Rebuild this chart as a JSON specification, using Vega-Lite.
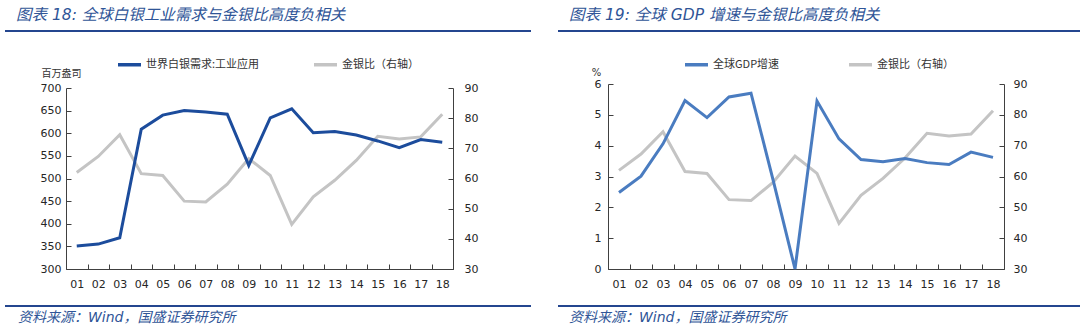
{
  "$schema": "https://vega.github.io/schema/vega-lite/v6.json",
  "background": "white",
  "padding": {"left": 4, "top": 7, "right": 0, "bottom": 0},
  "datasets": {
    "d": [
      {"year": "01", "silver": 351, "ratio": 62.0, "gdp": 2.48},
      {"year": "02", "silver": 355, "ratio": 67.3, "gdp": 3.01},
      {"year": "03", "silver": 369, "ratio": 74.5, "gdp": 4.06},
      {"year": "04", "silver": 609, "ratio": 61.6, "gdp": 5.46},
      {"year": "05", "silver": 640, "ratio": 61.0, "gdp": 4.91},
      {"year": "06", "silver": 650, "ratio": 52.5, "gdp": 5.58},
      {"year": "07", "silver": 647, "ratio": 52.2, "gdp": 5.70},
      {"year": "08", "silver": 642, "ratio": 58.1, "gdp": 2.90},
      {"year": "09", "silver": 529, "ratio": 66.6, "gdp": 0.0},
      {"year": "10", "silver": 634, "ratio": 61.0, "gdp": 5.45},
      {"year": "11", "silver": 654, "ratio": 44.8, "gdp": 4.22},
      {"year": "12", "silver": 601, "ratio": 53.9, "gdp": 3.55},
      {"year": "13", "silver": 604, "ratio": 59.4, "gdp": 3.48},
      {"year": "14", "silver": 596, "ratio": 66.0, "gdp": 3.58},
      {"year": "15", "silver": 583, "ratio": 74.0, "gdp": 3.45},
      {"year": "16", "silver": 568, "ratio": 73.1, "gdp": 3.39},
      {"year": "17", "silver": 586, "ratio": 73.8, "gdp": 3.79},
      {"year": "18", "silver": 580, "ratio": 81.3, "gdp": 3.62}
    ],
    "one": [{"k": 1}]
  },
  "config": {
    "view": {"stroke": null},
    "axis": {
      "grid": false,
      "domainColor": "#404040",
      "tickColor": "#404040",
      "labelColor": "#262626",
      "labelFont": "DejaVu Sans",
      "labelFontSize": 11
    }
  },
  "resolve": {"scale": {"x": "independent", "y": "independent", "color": "independent"}, "legend": {"color": "independent"}},
  "spacing": 25,
  "hconcat": [
    {
      "spacing": 19,
      "resolve": {"scale": {"x": "independent", "y": "independent", "color": "independent"}, "legend": {"color": "independent"}},
      "vconcat": [
        {
          "data": {"name": "one"},
          "width": 526,
          "height": 1,
          "title": {
            "text": "图表 18: 全球白银工业需求与金银比高度负相关",
            "anchor": "start",
            "orient": "top",
            "dx": 12,
            "offset": -5,
            "baseline": "alphabetic",
            "font": "DejaVu Sans, Noto Sans CJK SC",
            "fontSize": 15.5,
            "fontStyle": "italic",
            "fontWeight": "normal",
            "color": "#2f5597"
          },
          "mark": {"type": "rule", "color": "#24468f", "strokeWidth": 2},
          "encoding": {
            "y": {"datum": 1, "type": "quantitative", "scale": {"domain": [0, 1]}, "axis": null}
          }
        },
        {
          "spacing": 16,
          "resolve": {"scale": {"x": "independent", "y": "independent", "color": "independent"}, "legend": {"color": "independent"}},
          "vconcat": [
            {
              "spacing": 0,
              "resolve": {"scale": {"x": "independent", "y": "independent", "color": "independent"}, "legend": {"color": "independent"}},
              "hconcat": [
                {
                  "data": {"name": "one"},
                  "width": 1,
                  "height": 1,
                  "mark": {"type": "rule", "opacity": 0},
                  "encoding": {
                    "y": {"datum": 1, "type": "quantitative", "scale": {"domain": [0, 1]}, "axis": null}
                  }
                },
                {
                  "data": {"name": "d"},
                  "width": 387,
                  "height": 181,
                  "encoding": {
                    "x": {
                      "field": "year",
                      "type": "ordinal",
                      "scale": {"type": "band", "paddingInner": 0, "paddingOuter": 0},
                      "axis": {"title": null, "tickBand": "extent", "tickSize": -5, "labelPadding": 14, "labelAngle": 0}
                    }
                  },
                  "layer": [
                    {
                      "mark": {"type": "line", "strokeWidth": 3},
                      "encoding": {
                        "y": {
                          "field": "ratio",
                          "type": "quantitative",
                          "scale": {"domain": [30, 90], "nice": false, "zero": false},
                          "axis": {"orient": "right", "values": [30, 40, 50, 60, 70, 80, 90], "title": null, "tickSize": -5, "labelPadding": 16, "minExtent": 78}
                        },
                        "color": {"datum": "金银比（右轴）", "type": "nominal"}
                      }
                    },
                    {
                      "mark": {"type": "line", "strokeWidth": 3},
                      "encoding": {
                        "y": {
                          "field": "silver",
                          "type": "quantitative",
                          "scale": {"domain": [300, 700], "nice": false, "zero": false},
                          "axis": {
                            "orient": "left",
                            "values": [300, 350, 400, 450, 500, 550, 600, 650, 700],
                            "title": "百万盎司",
                            "titleAngle": 0,
                            "titleX": -5,
                            "titleY": -15,
                            "titleAlign": "center",
                            "titleBaseline": "middle",
                            "titleFont": "Noto Sans CJK SC",
                            "titleFontSize": 10,
                            "titleFontWeight": "normal",
                            "titleColor": "#333333",
                            "tickSize": -5,
                            "labelPadding": 10,
                            "minExtent": 60
                          }
                        },
                        "color": {
                          "datum": "世界白银需求:工业应用",
                          "type": "nominal",
                          "scale": {"domain": ["世界白银需求:工业应用", "金银比（右轴）"], "range": ["#1c4c9c", "#c4c4c4"]},
                          "legend": {
                            "orient": "none",
                            "legendX": 50,
                            "legendY": -37,
                            "direction": "horizontal",
                            "title": null,
                            "symbolType": "stroke",
                            "symbolStrokeWidth": 3.5,
                            "symbolSize": 530,
                            "labelFont": "Noto Sans CJK SC",
                            "labelFontSize": 11,
                            "labelColor": "#333333",
                            "columnPadding": 46,
                            "labelOffset": 3,
                            "padding": 0
                          }
                        }
                      }
                    }
                  ],
                  "resolve": {"scale": {"y": "independent"}}
                }
              ]
            },
            {
              "data": {"name": "one"},
              "width": 526,
              "height": 1,
              "title": {
                "text": "资料来源：Wind，国盛证券研究所",
                "anchor": "start",
                "orient": "bottom",
                "dx": 14,
                "offset": 4,
                "baseline": "top",
                "font": "DejaVu Sans, Noto Sans CJK SC",
                "fontSize": 14,
                "fontStyle": "italic",
                "fontWeight": "normal",
                "color": "#2f5597"
              },
              "mark": {"type": "rule", "color": "#24468f", "strokeWidth": 2},
              "encoding": {
                "y": {"datum": 1, "type": "quantitative", "scale": {"domain": [0, 1]}, "axis": null}
              }
            }
          ]
        }
      ]
    },
    {
      "spacing": 19,
      "resolve": {"scale": {"x": "independent", "y": "independent", "color": "independent"}, "legend": {"color": "independent"}},
      "vconcat": [
        {
          "data": {"name": "one"},
          "width": 523,
          "height": 1,
          "title": {
            "text": "图表 19: 全球 GDP 增速与金银比高度负相关",
            "anchor": "start",
            "orient": "top",
            "dx": 12,
            "offset": -5,
            "baseline": "alphabetic",
            "font": "DejaVu Sans, Noto Sans CJK SC",
            "fontSize": 15.5,
            "fontStyle": "italic",
            "fontWeight": "normal",
            "color": "#2f5597"
          },
          "mark": {"type": "rule", "color": "#24468f", "strokeWidth": 2},
          "encoding": {
            "y": {"datum": 1, "type": "quantitative", "scale": {"domain": [0, 1]}, "axis": null}
          }
        },
        {
          "spacing": 16,
          "resolve": {"scale": {"x": "independent", "y": "independent", "color": "independent"}, "legend": {"color": "independent"}},
          "vconcat": [
            {
              "spacing": 0,
              "resolve": {"scale": {"x": "independent", "y": "independent", "color": "independent"}, "legend": {"color": "independent"}},
              "hconcat": [
                {
                  "data": {"name": "one"},
                  "width": 1,
                  "height": 1,
                  "mark": {"type": "rule", "opacity": 0},
                  "encoding": {
                    "y": {"datum": 1, "type": "quantitative", "scale": {"domain": [0, 1]}, "axis": null}
                  }
                },
                {
                  "data": {"name": "d"},
                  "width": 396,
                  "height": 185,
                  "encoding": {
                    "x": {
                      "field": "year",
                      "type": "ordinal",
                      "scale": {"type": "band", "paddingInner": 0, "paddingOuter": 0},
                      "axis": {"title": null, "tickBand": "extent", "tickSize": -5, "labelPadding": 14, "labelAngle": 0}
                    }
                  },
                  "layer": [
                    {
                      "mark": {"type": "line", "strokeWidth": 3},
                      "encoding": {
                        "y": {
                          "field": "ratio",
                          "type": "quantitative",
                          "scale": {"domain": [30, 90], "nice": false, "zero": false},
                          "axis": {"orient": "right", "values": [30, 40, 50, 60, 70, 80, 90], "title": null, "tickSize": -5, "labelPadding": 14, "minExtent": 77}
                        },
                        "color": {"datum": "金银比（右轴）", "type": "nominal"}
                      }
                    },
                    {
                      "mark": {"type": "line", "strokeWidth": 3},
                      "encoding": {
                        "y": {
                          "field": "gdp",
                          "type": "quantitative",
                          "scale": {"domain": [0, 6], "nice": false},
                          "axis": {
                            "orient": "left",
                            "values": [0, 1, 2, 3, 4, 5, 6],
                            "title": "%",
                            "titleAngle": 0,
                            "titleX": -12,
                            "titleY": -12,
                            "titleAlign": "center",
                            "titleBaseline": "middle",
                            "titleFont": "DejaVu Sans",
                            "titleFontSize": 10,
                            "titleFontWeight": "normal",
                            "titleColor": "#333333",
                            "tickSize": -5,
                            "labelPadding": 12,
                            "minExtent": 49
                          }
                        },
                        "color": {
                          "datum": "全球GDP增速",
                          "type": "nominal",
                          "scale": {"domain": ["全球GDP增速", "金银比（右轴）"], "range": ["#4a7cc0", "#c4c4c4"]},
                          "legend": {
                            "orient": "none",
                            "legendX": 75,
                            "legendY": -33,
                            "direction": "horizontal",
                            "title": null,
                            "symbolType": "stroke",
                            "symbolStrokeWidth": 3.5,
                            "symbolSize": 530,
                            "labelFont": "Noto Sans CJK SC",
                            "labelFontSize": 11,
                            "labelColor": "#333333",
                            "columnPadding": 61,
                            "labelOffset": 3,
                            "padding": 0
                          }
                        }
                      }
                    }
                  ],
                  "resolve": {"scale": {"y": "independent"}}
                }
              ]
            },
            {
              "data": {"name": "one"},
              "width": 523,
              "height": 1,
              "title": {
                "text": "资料来源：Wind，国盛证券研究所",
                "anchor": "start",
                "orient": "bottom",
                "dx": 12,
                "offset": 4,
                "baseline": "top",
                "font": "DejaVu Sans, Noto Sans CJK SC",
                "fontSize": 14,
                "fontStyle": "italic",
                "fontWeight": "normal",
                "color": "#2f5597"
              },
              "mark": {"type": "rule", "color": "#24468f", "strokeWidth": 2},
              "encoding": {
                "y": {"datum": 1, "type": "quantitative", "scale": {"domain": [0, 1]}, "axis": null}
              }
            }
          ]
        }
      ]
    }
  ]
}
